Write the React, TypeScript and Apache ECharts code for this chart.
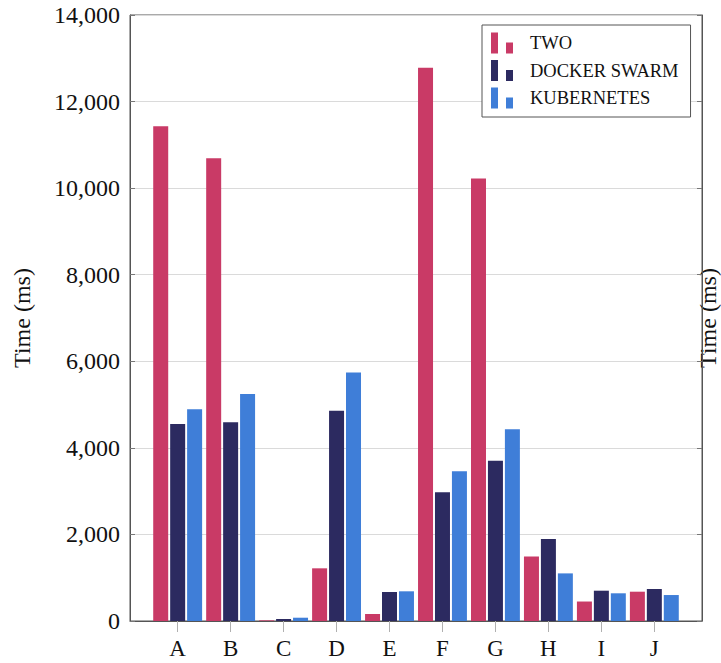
import { useEffect, useRef } from "react";
import * as echarts from "echarts";

const categories = ["A", "B", "C", "D", "E", "F", "G", "H", "I", "J"];
const twoValues = [11430, 10690, 15, 1217, 162, 12780, 10220, 1490, 450, 677];
const dockerSwarmValues = [4550, 4590, 46, 4857, 670, 2972, 3700, 1894, 700, 739];
const kubernetesValues = [4890, 5243, 76, 5741, 686, 3460, 4430, 1100, 640, 600];
const seriesNames = ["TWO", "DOCKER SWARM", "KUBERNETES"];
const yMin = 0;
const yMax = 14000;
const yStep = 2000;
const yTitle = "Time (ms)";

const COLORS = ["#c93a66", "#2c2a60", "#3f7ed8"];
const FONT = "Liberation Serif, Times New Roman, serif";

export default function App() {
  const ref = useRef<HTMLDivElement>(null);

  useEffect(() => {
    if (!ref.current) return;
    const chart = echarts.init(ref.current, null, { renderer: "svg" });
    const allValues = [twoValues, dockerSwarmValues, kubernetesValues];
    const tickIdx = categories.map((_, i) => i);

    chart.setOption({
      animation: false,
      backgroundColor: "#ffffff",
      grid: {
        left: 130,
        right: 19,
        top: 15,
        bottom: 42,
        show: true,
        borderColor: "#555555",
        borderWidth: 1,
        backgroundColor: "transparent",
      },
      legend: {
        orient: "vertical",
        left: 482,
        top: 25,
        data: seriesNames,
        icon: "path://M0,0h7v21h-7z M15,10h7v11h-7z",
        itemWidth: 22,
        itemHeight: 21,
        itemGap: 6.5,
        padding: [7.5, 12, 8.5, 9],
        backgroundColor: "#ffffff",
        borderColor: "#555555",
        borderWidth: 1,
        borderRadius: 0,
        selectedMode: false,
        textStyle: {
          fontFamily: FONT,
          fontSize: 18.5,
          color: "#111111",
          padding: [0, 0, 0, 12],
        },
      },
      xAxis: {
        type: "value",
        min: -0.9,
        max: 9.9,
        axisLine: { show: true, onZero: false, lineStyle: { color: "#555555", width: 1 } },
        axisTick: {
          show: true,
          customValues: tickIdx,
          inside: false,
          length: 11,
          lineStyle: { color: "#b0b0b0", width: 1 },
        },
        axisLabel: {
          customValues: tickIdx,
          formatter: (v: number) => categories[Math.round(v)] ?? "",
          fontFamily: FONT,
          fontSize: 23,
          color: "#111111",
          margin: 16,
        },
        splitLine: { show: false },
      },
      yAxis: [
        {
          type: "value",
          min: yMin,
          max: yMax,
          interval: yStep,
          position: "left",
          axisLine: { show: true, onZero: false, lineStyle: { color: "#555555", width: 1 } },
          axisTick: { show: true, inside: true, length: 5, lineStyle: { color: "#777777" } },
          axisLabel: {
            formatter: (v: number) => v.toLocaleString("en-US"),
            fontFamily: FONT,
            fontSize: 24,
            color: "#111111",
            margin: 10,
          },
          splitLine: { show: true, lineStyle: { color: "#dadada", width: 1 } },
        },
        {
          type: "value",
          min: yMin,
          max: yMax,
          interval: yStep,
          position: "right",
          axisLine: { show: true, onZero: false, lineStyle: { color: "#555555", width: 1 } },
          axisTick: { show: true, inside: true, length: 5, lineStyle: { color: "#777777" } },
          axisLabel: { show: false },
          splitLine: { show: false },
        },
      ],
      graphic: [
        {
          type: "text",
          x: 22,
          y: 318,
          rotation: Math.PI / 2,
          style: {
            text: yTitle,
            fontFamily: FONT,
            fontSize: 24,
            fill: "#111111",
            align: "center",
            verticalAlign: "middle",
          },
        },
        {
          type: "text",
          x: 708,
          y: 318,
          rotation: Math.PI / 2,
          style: {
            text: yTitle,
            fontFamily: FONT,
            fontSize: 24,
            fill: "#111111",
            align: "center",
            verticalAlign: "middle",
          },
        },
      ],
      series: seriesNames.map((name, s) => ({
        name,
        type: "bar",
        xAxisIndex: 0,
        yAxisIndex: 0,
        barWidth: 15,
        barGap: "13%",
        itemStyle: { color: COLORS[s] },
        data: allValues[s].map((v, i) => [i, v]),
      })),
    });

    return () => chart.dispose();
  }, []);

  return (
    <div
      ref={ref}
      style={{ position: "absolute", left: 0, top: 0, width: 721, height: 663 }}
    />
  );
}
